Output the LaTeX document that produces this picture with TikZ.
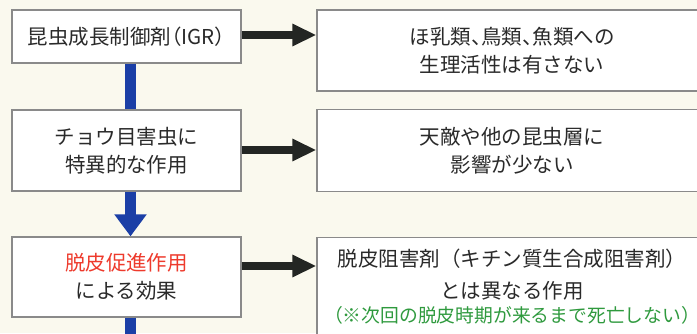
\documentclass[tikz,border=0pt]{standalone}
\usepackage{fontspec}
\setmainfont{Noto Sans CJK JP}
\newfontfamily\pfont[RawFeature=+palt]{Noto Sans CJK JP}
\usetikzlibrary{arrows.meta}
\definecolor{bgc}{HTML}{FAF9EE}
\definecolor{boxline}{HTML}{8A8A8A}
\definecolor{txt}{HTML}{2A2A2A}
\definecolor{redt}{HTML}{EE3A2C}
\definecolor{greent}{HTML}{2F9A3E}
\definecolor{bluea}{HTML}{1B3FA6}
\definecolor{blacka}{HTML}{232623}
\tikzset{
  box/.style={draw=boxline, line width=1.3pt, fill=white, text=txt, align=center,
    inner sep=0pt, font=\fontsize{20.5}{28}\selectfont},
  lbl/.style={text=txt, inner sep=0pt, anchor=base, font=\fontsize{20.5}{28}\selectfont},
  note/.style={text=greent, inner sep=0pt, anchor=base, font=\fontsize{18.8}{22}\selectfont},
  blk/.style={draw=blacka, line width=8.5pt, -{Triangle[length=24pt,width=21pt]}},
  blu/.style={draw=bluea, line width=11pt},
  bluarr/.style={blu, -{Triangle[length=22pt,width=31pt]}}
}
\begin{document}
\begin{tikzpicture}[x=1pt,y=-1pt]
\fill[bgc] (0,0) rectangle (697,333);
\useasboundingbox (0,0) rectangle (697,333);
\begin{scope}
\clip (0,0) rectangle (697,333);
% right bottom box (runs past the lower and right edges)
\node[box, minimum width=390pt, minimum height=110pt, anchor=north] (r3) at (512,236.5) {};
% blue connector leaving the bottom edge
\coordinate (bend) at (130.5,340);
\end{scope}
% left boxes
\node[box, minimum width=229pt, minimum height=53pt] (l1) at (126.5,36.5) {昆虫成長制御剤{\pfont（IGR）}};
\node[box, minimum width=229pt, minimum height=81pt] (l2) at (126.5,150.5) {チョウ目害虫に\\特異的な作用};
\node[box, minimum width=229pt, minimum height=80pt] (l3) at (126.5,277) {\textcolor{redt}{脱皮促進作用}\\による効果};
% right boxes
\begin{scope}
\clip (0,0) rectangle (697,333);
\node[box, minimum width=390pt, minimum height=81pt] (r1) at (512,50.5) {};
\node[box, minimum width=390pt, minimum height=82pt] (r2) at (512,150.5) {};
\draw[blu] (l3.south -| 130.5,0) -- (bend);
\end{scope}
\node[box, draw=none, fill=none] (r1t) at (r1.center) {{\pfont ほ乳類、鳥類、魚類への}\\生理活性は有さない};
\node[box, draw=none, fill=none] (r2t) at (r2.center) {天敵や他の昆虫層に\\影響が少ない};
\node[lbl] (r3a) at (512,266.5) {脱皮阻害剤（キチン質生合成阻害剤）};
\node[lbl] (r3b) at (512,298.5) {とは異なる作用};
\node[note] (r3g) at (512,322) {（※次回の脱皮時期が来るまで死亡しない）};
% black arrows
\draw[blk] (l1.east |- 0,35) -- (r1.west |- 0,35);
\draw[blk] (l2.east |- 0,150) -- (r2.west |- 0,150);
\draw[blk] (l3.east |- 0,266) -- (r3.west |- 0,266);
% blue connectors
\draw[blu] (l1.south -| 130.5,0) -- (l2.north -| 130.5,0);
\draw[bluarr] (l2.south -| 130.5,0) -- (l3.north -| 130.5,0);
\end{tikzpicture}
\end{document}
